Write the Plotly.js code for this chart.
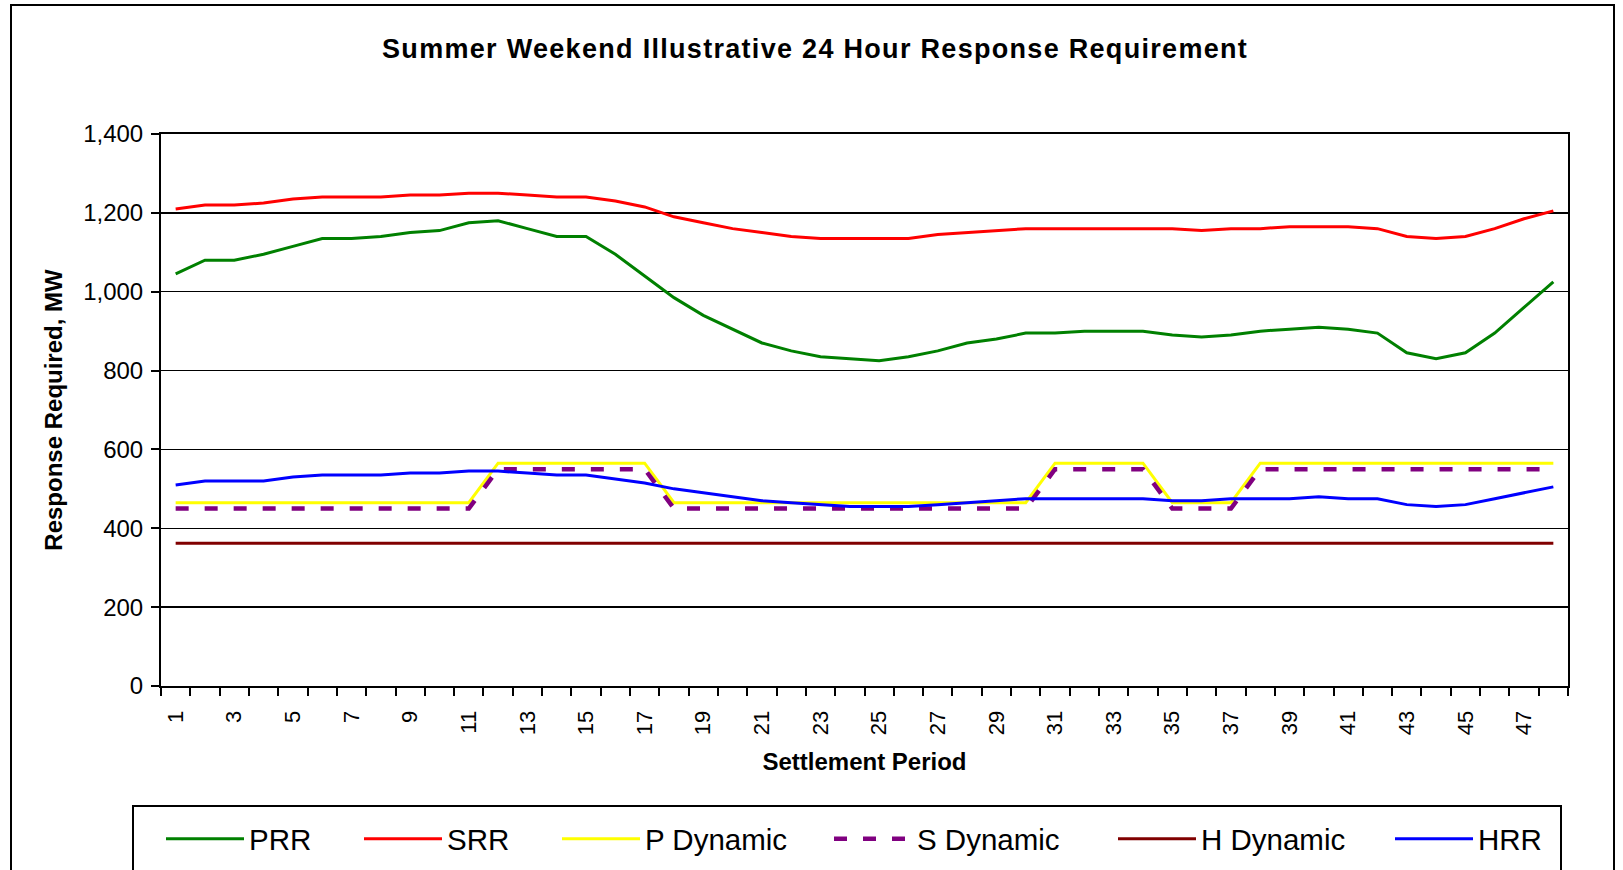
<!DOCTYPE html>
<html>
<head>
<meta charset="utf-8">
<script src="https://cdn.plot.ly/plotly-3.0.1.min.js"></script>
<style>
  html, body { margin:0; padding:0; background:#fff; width:1623px; height:870px; overflow:hidden; }
  #frame { position:absolute; left:10px; top:4px; width:1605px; height:900px; border:2px solid #000; box-sizing:border-box; }
  #legbox { position:absolute; left:132px; top:805px; width:1430px; height:120px; border:2px solid #000; box-sizing:border-box; }
  #chart { position:absolute; left:0; top:0; width:1623px; height:870px; }
  .gtitle { letter-spacing:1.3px; }
</style>
</head>
<body>
<div id="frame"></div>
<div id="legbox"></div>
<div id="chart"></div>
<script>
const periods = [1,2,3,4,5,6,7,8,9,10,11,12,13,14,15,16,17,18,19,20,21,22,23,24,
                 25,26,27,28,29,30,31,32,33,34,35,36,37,38,39,40,41,42,43,44,45,46,47,48];

const prr = [1045,1080,1080,1095,1115,1135,1135,1140,1150,1155,
             1175,1180,1160,1140,1140,1095,1040,985,940,905,
             870,850,835,830,825,835,850,870,880,895,
             895,900,900,900,890,885,890,900,905,910,
             905,895,845,830,845,895,960,1025];

const srr = [1210,1220,1220,1225,1235,1240,1240,1240,1245,1245,
             1250,1250,1245,1240,1240,1230,1215,1190,1175,1160,
             1150,1140,1135,1135,1135,1135,1145,1150,1155,1160,
             1160,1160,1160,1160,1160,1155,1160,1160,1165,1165,
             1165,1160,1140,1135,1140,1160,1185,1205];

const pDynamic = [465,465,465,465,465,465,465,465,465,465,
                  465,565,565,565,565,565,565,465,465,465,
                  465,465,465,465,465,465,465,465,465,465,
                  565,565,565,565,465,465,465,565,565,565,
                  565,565,565,565,565,565,565,565];

const sDynamic = [450,450,450,450,450,450,450,450,450,450,
                  450,550,550,550,550,550,550,450,450,450,
                  450,450,450,450,450,450,450,450,450,450,
                  550,550,550,550,450,450,450,550,550,550,
                  550,550,550,550,550,550,550,550];

const hDynamic = [362,362,362,362,362,362,362,362,362,362,
                  362,362,362,362,362,362,362,362,362,362,
                  362,362,362,362,362,362,362,362,362,362,
                  362,362,362,362,362,362,362,362,362,362,
                  362,362,362,362,362,362,362,362];

const hrr = [510,520,520,520,530,535,535,535,540,540,
             545,545,540,535,535,525,515,500,490,480,
             470,465,460,455,455,455,460,465,470,475,
             475,475,475,475,470,470,475,475,475,480,
             475,475,460,455,460,475,490,505];

const seriesNames = ['PRR','SRR','P Dynamic','S Dynamic','H Dynamic','HRR'];

const FONT = 'Arial, "Liberation Sans", sans-serif';

function mk(name, y, color, width, dash, lw) {
  const t = {
    type:'scatter', mode:'lines', name:name, x:periods, y:y,
    line:{color:color, width:width, dash:dash || 'solid'},
    hoverinfo:'x+y+name'
  };
  if (lw) t.legendwidth = lw;
  return t;
}

const traces = [
  mk(seriesNames[0], prr, '#008000', 3, null, 105),
  mk(seriesNames[1], srr, '#FF0000', 3, null, 105),
  mk(seriesNames[2], pDynamic, '#FFFF00', 3, null, 179),
  mk(seriesNames[3], sDynamic, '#800080', 4.5, '13px,16px', 191),
  mk(seriesNames[4], hDynamic, '#800000', 3, null, 184),
  mk(seriesNames[5], hrr, '#0000FF', 3, null, null)
];

const layout = {
  width:1623, height:870,
  paper_bgcolor:'rgba(0,0,0,0)', plot_bgcolor:'rgba(0,0,0,0)',
  margin:{l:161, r:55, t:134, b:184, pad:0},
  font:{family:FONT, color:'#000'},
  title:{
    text:'Summer Weekend Illustrative 24 Hour Response Requirement',
    font:{family:FONT, size:27, weight:'bold', color:'#000'},
    x:0.5022, xref:'container', xanchor:'center',
    y:0.9443, yref:'container', yanchor:'middle'
  },
  xaxis:{
    range:[0.5, 48.5],
    tickmode:'linear', tick0:1, dtick:2,
    tickangle:-90,
    ticks:'outside', ticklen:8, tickcolor:'rgba(0,0,0,0)',
    ticklabelstandoff:6,
    tickfont:{family:FONT, size:22, color:'#000'},
    minor:{tickmode:'linear', tick0:0.5, dtick:1, ticks:'outside', ticklen:8, tickwidth:2, tickcolor:'#000', showgrid:false},
    showline:true, linecolor:'#000', linewidth:2, mirror:true,
    showgrid:false, zeroline:false, automargin:false,
    title:{text:'Settlement Period', font:{family:FONT, size:24, weight:'bold', color:'#000'}, standoff:19}
  },
  yaxis:{
    range:[0, 1400], tickmode:'linear', tick0:0, dtick:200,
    tickformat:',d',
    ticks:'outside', ticklen:8, tickwidth:2, tickcolor:'#000',
    ticklabelstandoff:3,
    tickfont:{family:FONT, size:24, color:'#000'},
    showline:true, linecolor:'#000', linewidth:2, mirror:true,
    showgrid:true, gridcolor:'#000', gridwidth:1.5,
    zeroline:false, automargin:false,
    title:{text:'Response Required, MW', font:{family:FONT, size:24, weight:'bold', color:'#000'}, standoff:14}
  },
  showlegend:true,
  legend:{
    orientation:'h',
    x:0.0992, xanchor:'left', xref:'container',
    y:0.0655, yanchor:'top', yref:'container',
    bgcolor:'rgba(0,0,0,0)', borderwidth:0,
    itemwidth:78,
    font:{family:FONT, size:29.5, color:'#000'},
    traceorder:'normal'
  }
};

Plotly.newPlot('chart', traces, layout, {displayModeBar:false, staticPlot:true});
</script>
</body>
</html>
